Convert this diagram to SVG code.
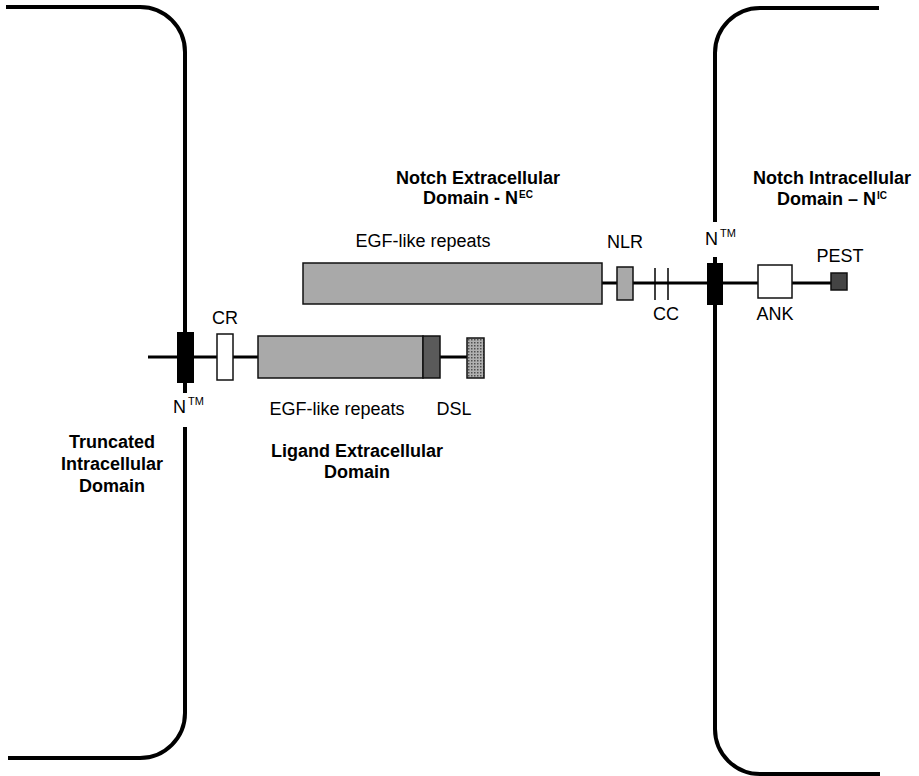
<svg xmlns="http://www.w3.org/2000/svg" width="919" height="776" viewBox="0 0 919 776">
<defs>
<pattern id="dots" width="3" height="3" patternUnits="userSpaceOnUse">
<rect width="3" height="3" fill="#b0b0b0"/>
<rect width="1.5" height="1.5" fill="#505050"/>
</pattern>
<style>
.mem{fill:none;stroke:#000;stroke-width:4;stroke-linecap:butt}
.ln{fill:none;stroke:#000;stroke-width:3}
.box{stroke:#111;stroke-width:1.5}
.t{font-family:"Liberation Sans",Arial,sans-serif;font-size:18px;fill:#000}
.b{font-family:"Liberation Sans",Arial,sans-serif;font-size:18px;font-weight:bold;fill:#000}
.sup{font-size:11px}
.bsup{font-size:10px}
</style>
</defs>
<rect width="919" height="776" fill="#fff"/>
<g id="connectors">
<path class="mem" d="M6,7 H140 A45,45 0 0 1 185,52 V393"/>
<path class="mem" d="M185,427 V713 A45,45 0 0 1 140,758 H8"/>
<path class="mem" d="M879,8 H760 A45,45 0 0 0 715,53 V222"/>
<path class="mem" d="M715,257 V729 A45,45 0 0 0 760,774 H880"/>
<line class="ln" x1="148" y1="357" x2="467" y2="357"/>
<line class="ln" x1="602" y1="283" x2="831" y2="283"/>
</g>
<g id="ligand-tm">
<rect x="177" y="332" width="17" height="51" fill="#000"/>
<text class="t" x="173" y="413">N<tspan class="sup" dx="2" dy="-8">TM</tspan></text>
</g>
<g id="cr">
<rect class="box" x="217" y="334" width="16" height="46" fill="#fff"/>
<text class="t" x="225" y="324" text-anchor="middle">CR</text>
</g>
<g id="ligand-egf">
<rect class="box" x="258" y="336" width="165" height="42" fill="#a9a9a9"/>
<rect class="box" x="423" y="336" width="17" height="42" fill="#5a5a5a"/>
<text class="t" x="337" y="415" text-anchor="middle">EGF-like repeats</text>
</g>
<g id="dsl">
<rect class="box" x="467" y="338" width="17" height="40" fill="url(#dots)"/>
<text class="t" x="454" y="415" text-anchor="middle">DSL</text>
</g>
<g id="notch-egf">
<rect class="box" x="303" y="263" width="299" height="41" fill="#a9a9a9"/>
<text class="t" x="423" y="247" text-anchor="middle">EGF-like repeats</text>
</g>
<g id="nlr">
<rect class="box" x="617" y="267" width="16" height="33" fill="#a9a9a9"/>
<text class="t" x="625" y="248" text-anchor="middle">NLR</text>
</g>
<g id="cc">
<line x1="655" y1="268" x2="655" y2="300" stroke="#000" stroke-width="1.5"/>
<line x1="668" y1="268" x2="668" y2="300" stroke="#000" stroke-width="1.5"/>
<text class="t" x="666" y="320" text-anchor="middle">CC</text>
</g>
<g id="notch-tm">
<rect x="707" y="263" width="16" height="42" fill="#000"/>
<text class="t" x="705" y="245">N<tspan class="sup" dx="2" dy="-8">TM</tspan></text>
</g>
<g id="ank">
<rect class="box" x="758" y="265" width="34" height="33" fill="#fff"/>
<text class="t" x="775" y="320" text-anchor="middle">ANK</text>
</g>
<g id="pest">
<rect class="box" x="831" y="273" width="16" height="17" fill="#444"/>
<text class="t" x="840" y="262" text-anchor="middle">PEST</text>
</g>
<g id="notch-ec-label">
<text class="b" x="478" y="184" text-anchor="middle">Notch Extracellular</text>
<text class="b" x="478" y="204" text-anchor="middle">Domain - N<tspan class="bsup" dx="1" dy="-6">EC</tspan></text>
</g>
<g id="notch-ic-label">
<text class="b" x="832" y="184" text-anchor="middle">Notch Intracellular</text>
<text class="b" x="832" y="205" text-anchor="middle">Domain – N<tspan class="bsup" dx="1" dy="-6">IC</tspan></text>
</g>
<g id="truncated-label">
<text class="b" x="112" y="448" text-anchor="middle">Truncated</text>
<text class="b" x="112" y="470" text-anchor="middle">Intracellular</text>
<text class="b" x="112" y="492" text-anchor="middle">Domain</text>
</g>
<g id="ligand-ec-label">
<text class="b" x="357" y="457" text-anchor="middle">Ligand Extracellular</text>
<text class="b" x="357" y="478" text-anchor="middle">Domain</text>
</g>
</svg>
